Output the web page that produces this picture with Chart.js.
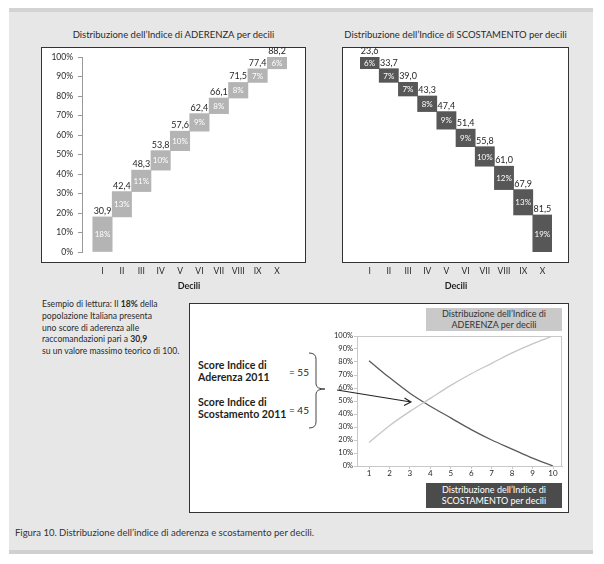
<!DOCTYPE html>
<html><head><meta charset="utf-8">
<script src="https://cdn.jsdelivr.net/npm/chart.js@4.4.1/dist/chart.umd.min.js"></script>
<style>
html,body{margin:0;padding:0;background:#fff;width:604px;height:564px;overflow:hidden;font-family:Lato,"Noto Sans",sans-serif;color:#231f20}
.abs{position:absolute}
#panel{left:9px;top:8px;width:584px;height:546px;background:#e7e7e8;border-top:4px solid #d3d3d3;border-bottom:4px solid #d0d0d0;box-sizing:border-box}
.box{background:#fff;border:1px solid #333;box-sizing:border-box}
canvas{position:absolute}
.ttl{text-align:center;font-size:9.5px;line-height:12px;white-space:nowrap;color:#2a2a2a}
.lbl{text-align:center;font-size:9px;line-height:10.5px;box-sizing:border-box;padding-top:1px;white-space:nowrap}
</style></head><body>
<div id="panel" class="abs"></div>
<div class="abs box" style="left:41px;top:47px;width:265px;height:216px"></div>
<div class="abs box" style="left:342px;top:47px;width:227px;height:216px"></div>
<div class="abs box" style="left:189px;top:303px;width:380px;height:210px"></div>

<div class="abs ttl" style="left:41px;top:29px;width:265px">Distribuzione dell’Indice di ADERENZA per decili</div>
<div class="abs ttl" style="left:342px;top:29px;width:227px">Distribuzione dell’Indice di SCOSTAMENTO per decili</div>

<div class="abs" style="left:42px;top:299px;font-size:8.6px;line-height:11.8px;white-space:nowrap;color:#2a2a2a">Esempio di lettura: Il <b>18%</b> della<br>popolazione Italiana presenta<br>uno score di aderenza alle<br>raccomandazioni pari a <b>30,9</b><br>su un valore massimo teorico di 100.</div>

<div class="abs" style="left:198px;top:359px;font-size:10.6px;line-height:12px;font-weight:bold;white-space:nowrap">Score Indice di<br>Aderenza 2011</div>
<div class="abs" style="left:198px;top:396px;font-size:10.6px;line-height:12px;font-weight:bold;white-space:nowrap">Score Indice di<br>Scostamento 2011</div>
<div class="abs" style="left:289px;top:366px;font-size:10px;line-height:12px">= 55</div>
<div class="abs" style="left:289px;top:404px;font-size:10px;line-height:12px">= 45</div>

<div class="abs lbl" style="left:426px;top:308px;width:136px;height:23px;background:#c9c9c9;color:#333">Distribuzione dell’Indice di<br>ADERENZA per decili</div>
<div class="abs lbl" style="left:426px;top:483px;width:136px;height:25px;background:#4b4b4b;color:#fff;padding-top:2px">Distribuzione dell’Indice di<br>SCOSTAMENTO per decili</div>

<div class="abs" style="left:15px;top:527px;font-size:9.5px;line-height:12px;color:#333;white-space:nowrap">Figura 10. Distribuzione dell’indice di aderenza e scostamento per decili.</div>

<canvas id="c1" width="265" height="250" style="left:41px;top:47px"></canvas>
<canvas id="c2" width="227" height="250" style="left:342px;top:47px"></canvas>
<canvas id="c3" width="249" height="160" style="left:320px;top:326px"></canvas>

<svg class="abs" style="left:0;top:0;pointer-events:none" width="604" height="564">
<path d="M309,353 Q316,353 316,359 L316,384 Q316,389 325,389 Q316,389 316,394 L316,422 Q316,428 309,428" fill="none" stroke="#444" stroke-width="1"/>
<path d="M337,390 L411,402 M404.5,398 L411,402 L404,405.5" fill="none" stroke="#222" stroke-width="1.1"/>
</svg>

<script>
const deciles = ['I','II','III','IV','V','VI','VII','VIII','IX','X'];
const adherencePct = [18,13,11,10,10,9,8,8,7,6];
const adherenceScore = [30.9,42.4,48.3,53.8,57.6,62.4,66.1,71.5,77.4,88.2];
const deviationPct = [6,7,7,8,9,9,10,12,13,19];
const deviationScore = [23.6,33.7,39.0,43.3,47.4,51.4,55.8,61.0,67.9,81.5];
const lineDeciles = [1,2,3,4,5,6,7,8,9,10];
const adherenceCurve = [18,31,42,52,62,71,79,87,94,100];
const deviationCurve = [81,68,56,46,37,28,20,13,6,0];

const FONT = 'Lato, "Noto Sans", sans-serif';
Chart.defaults.font.family = FONT;
Chart.defaults.color = '#231f20';

// floating ranges built from the shares
function rangesUp(p){let s=0;return p.map((v,i)=>{const lo=s;s+=v;return {x:i+1,y:[lo,s]};});}
function rangesDown(p){return p.map((v,i)=>{let lo=0;for(let j=i+1;j<p.length;j++)lo+=p[j];return {x:i+1,y:[lo,lo+v]};});}
const fmt = v => v.toFixed(1).replace('.', ',');

function barLabels(pct, score){
  return {id:'barLabels', afterDatasetsDraw(chart){
    const ctx=chart.ctx, meta=chart.getDatasetMeta(0);
    ctx.save(); ctx.textAlign='center';
    meta.data.forEach((bar,i)=>{
      const top=Math.min(bar.y,bar.base), bot=Math.max(bar.y,bar.base);
      ctx.fillStyle='#fff'; ctx.font='8px '+FONT; ctx.textBaseline='middle';
      ctx.fillText(pct[i]+'%', bar.x, (top+bot)/2+0.5);
      ctx.fillStyle='#231f20'; ctx.font='9px '+FONT; ctx.textBaseline='alphabetic';
      ctx.fillText(fmt(score[i]), bar.x, top-3);
    });
    ctx.restore();
  }};
}
const decTicks = s => { s.ticks = deciles.map((_,i)=>({value:i+1})); };
const xBase = (minV,maxV) => ({
  type:'linear', min:minV, max:maxV, offset:false,
  afterBuildTicks: decTicks, afterFit: s=>{s.height=45;},
  grid:{display:false, drawTicks:false}, border:{display:false},
  ticks:{padding:14, font:{size:8.5}, color:'#2a2a2a', callback:v=>deciles[v-1]},
  title:{display:true, text:'Decili', font:{size:9, weight:'bold'}, color:'#231f20', padding:{top:0,bottom:5.6}}
});

new Chart(document.getElementById('c1'), {
  type:'bar',
  data:{datasets:[{data:rangesUp(adherencePct), backgroundColor:'#b4b4b4', borderWidth:0, barPercentage:1, categoryPercentage:1}]},
  options:{responsive:false, animation:false,
    layout:{padding:{left:0,right:10,top:10,bottom:0}},
    plugins:{legend:{display:false}, tooltip:{enabled:false}},
    scales:{
      x: xBase(-0.057, 10.98),
      y:{min:0,max:100, afterFit:s=>{s.width=41;},
        ticks:{stepSize:10, callback:v=>v+'%', padding:5, font:{size:8.5}, color:'#2a2a2a'},
        grid:{drawOnChartArea:false, tickLength:4, color:'#999'}, border:{color:'#999'}}
    }},
  plugins:[barLabels(adherencePct, adherenceScore)]
});

new Chart(document.getElementById('c2'), {
  type:'bar',
  data:{datasets:[{data:rangesDown(deviationPct), backgroundColor:'#575757', borderWidth:0, barPercentage:1, categoryPercentage:1}]},
  options:{responsive:false, animation:false,
    layout:{padding:{left:18,right:17,top:10,bottom:0}},
    plugins:{legend:{display:false}, tooltip:{enabled:false}},
    scales:{
      x: xBase(0.5, 10.5),
      y:{display:false, min:0, max:100}
    }},
  plugins:[barLabels(deviationPct, deviationScore)]
});

const frame = {id:'frame', afterDraw(chart){
  const {ctx, chartArea:a}=chart; ctx.save(); ctx.strokeStyle='#c8c8c8'; ctx.lineWidth=1;
  ctx.strokeRect(Math.round(a.left)+0.5, Math.round(a.top)+0.5, Math.round(a.right-a.left)-1, Math.round(a.bottom-a.top));
  ctx.restore();
}};

new Chart(document.getElementById('c3'), {
  type:'line',
  data:{datasets:[
    {data:lineDeciles.map((x,i)=>({x, y:adherenceCurve[i]})), borderColor:'#c6c6c6', borderWidth:1.3, pointRadius:0, cubicInterpolationMode:'monotone'},
    {data:lineDeciles.map((x,i)=>({x, y:deviationCurve[i]})), borderColor:'#5a5a5a', borderWidth:1.3, pointRadius:0, cubicInterpolationMode:'monotone'}
  ]},
  options:{responsive:false, animation:false,
    layout:{padding:{left:0,right:7,top:10,bottom:0}},
    plugins:{legend:{display:false}, tooltip:{enabled:false}},
    scales:{
      x:{type:'linear', min:0.413, max:10.44,
        afterBuildTicks: s=>{ s.ticks = lineDeciles.map(v=>({value:v})); }, afterFit:s=>{s.height=20;},
        grid:{drawOnChartArea:false, tickLength:3, color:'#c8c8c8'}, border:{color:'#c8c8c8'},
        ticks:{padding:0, font:{size:8}, color:'#231f20'}},
      y:{min:0,max:100, afterFit:s=>{s.width=37;},
        ticks:{stepSize:10, callback:v=>v+'%', padding:1, font:{size:7.5}, color:'#231f20'},
        grid:{drawOnChartArea:false, tickLength:3, color:'#c8c8c8'}, border:{color:'#c8c8c8'}}
    }},
  plugins:[frame]
});
</script>
</body></html>
